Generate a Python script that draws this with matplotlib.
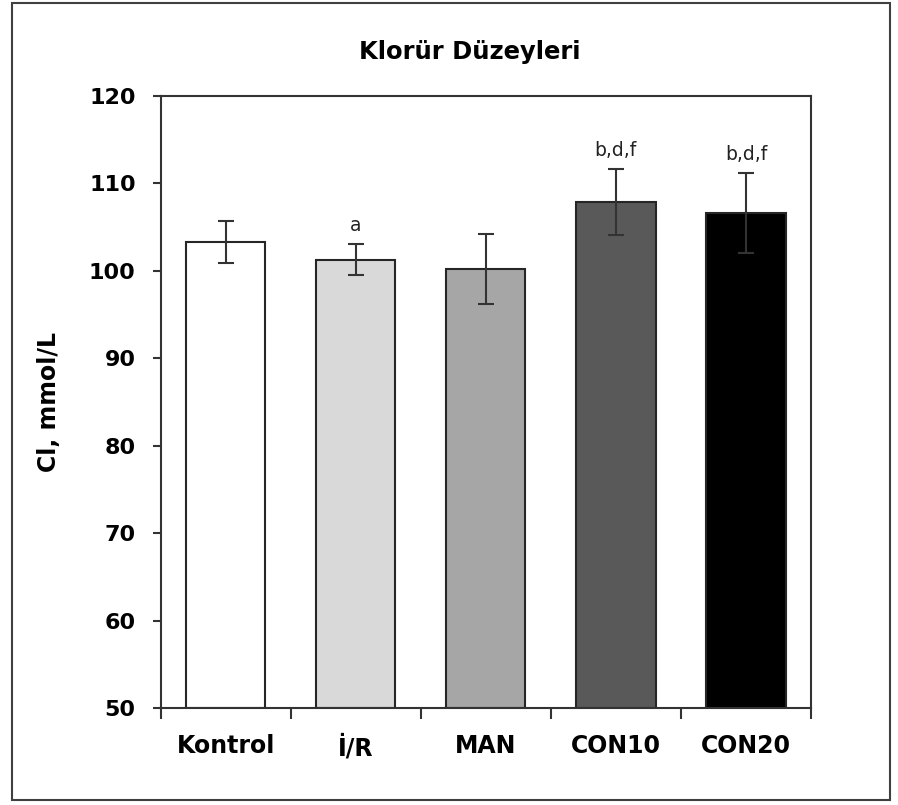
import matplotlib
matplotlib.use("Agg")
import matplotlib.pyplot as plt
from matplotlib.patches import Rectangle
import numpy as np

groups = ["Kontrol", "İ/R", "MAN", "CON10", "CON20"]
means = [103.35, 101.3, 100.2, 107.9, 106.6]
errors = [2.4, 1.8, 4.0, 3.75, 4.6]
marks = ["", "a", "", "b,d,f", "b,d,f"]
colors = ["#ffffff", "#d9d9d9", "#a6a6a6", "#595959", "#000000"]

plt.rcParams["font.family"] = ["DejaVu Sans"]

fig = plt.figure(figsize=(8.98, 8.05), dpi=100)
ax = fig.add_axes([0.179, 0.1205, 0.724, 0.7602])

x = np.arange(len(groups))
ax.bar(x, [m - 50 for m in means], bottom=50, width=0.61, color=colors,
       edgecolor="#262626", linewidth=1.5)
ax.errorbar(x, means, yerr=errors, fmt="none", ecolor="#333333",
            elinewidth=1.5, capsize=6, capthick=1.5)

for xi, m, e, t in zip(x, means, errors, marks):
    if t:
        ax.text(xi, m + e + 1.0, t, ha="center", va="bottom",
                fontsize=13.5, color="#222222")

ax.set_xlim(-0.5, len(groups) - 0.5)
ax.set_ylim(50, 120)
ax.set_yticks(range(50, 121, 10))
ax.set_xticks(x)
ax.set_xticklabels(groups, fontsize=17, fontweight="bold")
ax.set_xticks(np.arange(-0.5, len(groups), 1.0), minor=True)
ax.tick_params(axis="x", which="major", length=0, pad=19)
ax.tick_params(axis="x", which="minor", length=8, width=1.5, color="#333333")
ax.tick_params(axis="y", length=6, width=1.5, color="#333333", pad=12)
for lab in ax.get_yticklabels():
    lab.set_fontsize(16)
    lab.set_fontweight("bold")
for s in ax.spines.values():
    s.set_color("#333333")
    s.set_linewidth(1.5)

ax.set_ylabel("Cl, mmol/L", fontsize=17, fontweight="bold", labelpad=20)
fig.text(0.523, 0.935, "Klorür Düzeyleri", ha="center", va="center",
         fontsize=17.5, fontweight="bold")

fig.patches.append(Rectangle((0.013, 0.006), 0.978, 0.99, transform=fig.transFigure,
                             fill=False, edgecolor="#404040", linewidth=1.5))

fig.savefig("out.png", dpi=100)
